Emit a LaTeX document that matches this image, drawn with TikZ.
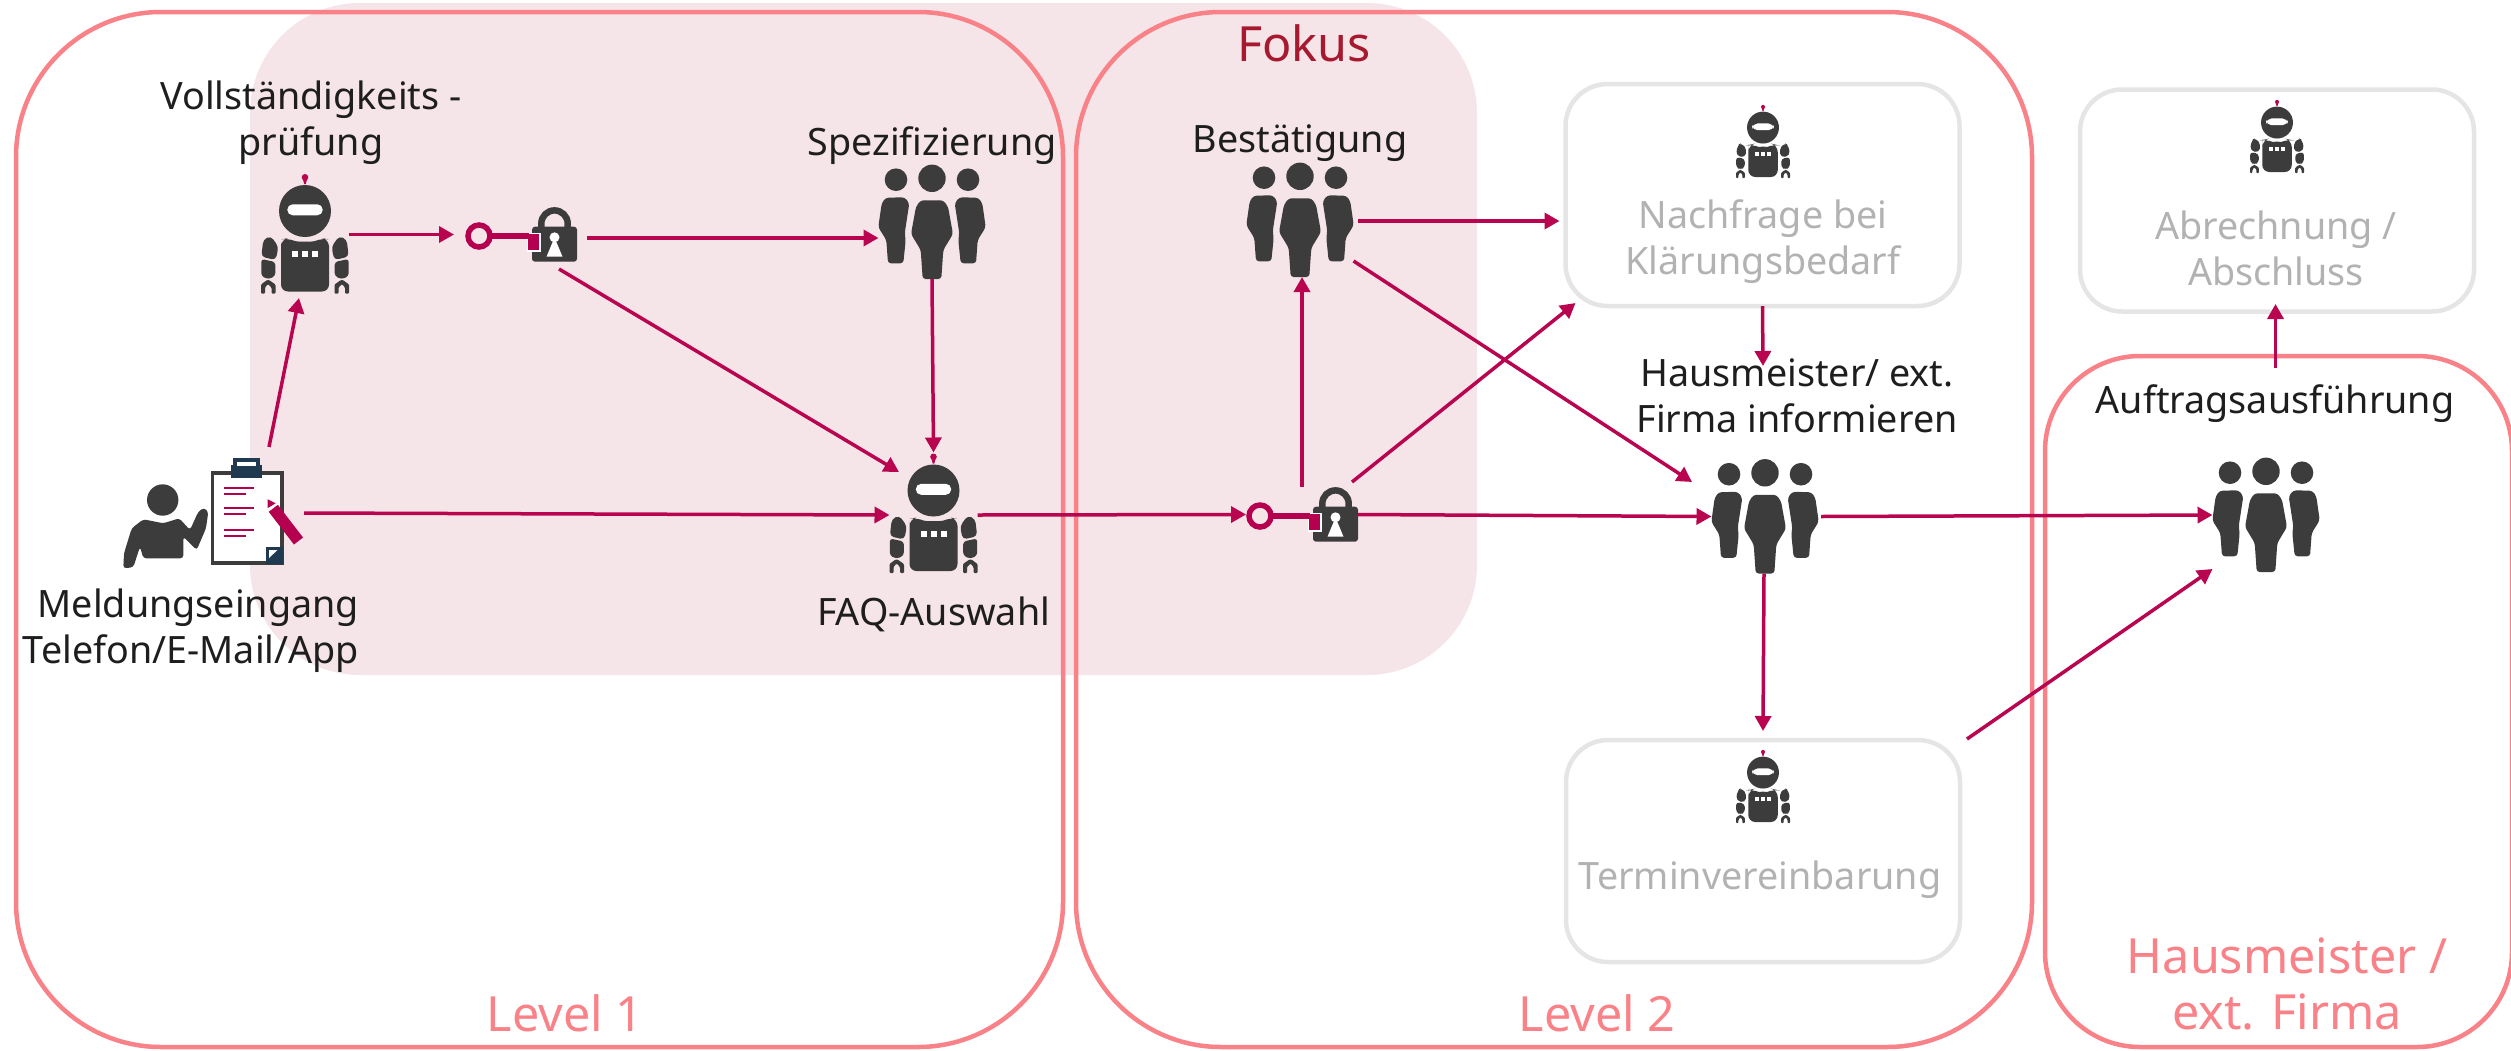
\documentclass[tikz,border=0pt]{standalone}
\usepackage{fontspec}
\setmainfont{Noto Sans}
\usepackage{xcolor}
\usetikzlibrary{arrows.meta,positioning}
\definecolor{flowred}{HTML}{B9054F}
\definecolor{keyred}{HTML}{B5004F}
\definecolor{framered}{HTML}{F98289}
\definecolor{focusbg}{HTML}{F5E5E9}
\definecolor{boxgrey}{HTML}{E5E5E5}
\definecolor{textgrey}{HTML}{B2B2B2}
\definecolor{icondark}{HTML}{3C3C3C}
\definecolor{clipblue}{HTML}{1F3A50}
\definecolor{textdark}{HTML}{1E1E1E}
\definecolor{fokusred}{HTML}{A6192E}

\begin{document}
\begin{tikzpicture}[x=1pt,y=-1pt,every node/.style={outer sep=0pt,inner sep=0pt},
    flow/.style={flowred,line width=3.5pt,-{Triangle[length=15pt,width=16pt]}},
    frame/.style={draw=framered,line width=4.5pt,rounded corners=145pt},
    greybox/.style={draw=boxgrey,line width=4.5pt,rounded corners=42pt,minimum width=394pt,minimum height=222pt},
    capt/.style={align=center,text=textdark,font=\fontsize{37.7}{46}\selectfont},
    captgrey/.style={capt,text=textgrey},
    lvl/.style={capt,text=framered,font=\fontsize{48.5}{56}\selectfont},
    robotpic/.pic={
    \fill[flowred] (0,-57.2) circle (3.3);
    \fill[flowred] (-2.3,-56) -- (2.3,-56) -- (0.8,-50.5) -- (-0.8,-50.5) -- cycle;
    \fill[icondark] (0,-23.5) circle (26);
    \fill[white,rounded corners=5.4] (-17.7,-30.2) rectangle (17.7,-19.2);
    \fill[icondark,rounded corners=7] (-24,14) -- (-24,5) -- (-17,3.5) .. controls (-8,7.5) and (8,7.5) .. (17,3.5) -- (24,5) -- (24,57) -- (-24,57) -- cycle;
    \foreach \X in {-10,0,10}
      \fill[white] (\X-3,16.5) rectangle (\X+3,22.5);
    \foreach \S in {-1,1}
    {
      \begin{scope}[xscale=\S]
        \fill[icondark,rounded corners=4] (34.3,1.5) -- (26.5,12.2) -- (29.3,25.5) -- (43.7,22.2) -- (41.7,5) -- cycle;
        \fill[icondark,rounded corners=3] (43.7,24.5) -- (29.7,27.5) -- (29.7,41.5) -- (36.7,44.8) -- (43.7,41.5) -- cycle;
        \fill[icondark,rounded corners=1] (44,59) -- (44,50) -- (38,45.5) -- (36,45.5) -- (29.5,50) -- (29.5,59) -- (33.5,59) -- (33.5,53) -- (37,49.5) -- (40,53) -- (40,59) -- cycle;
      \end{scope}
    }},
    crowdpic/.pic={
    \fill[icondark] (0,-43.7) circle (13.7);
    \fill[icondark,rounded corners=3] (-11.3,-21.7) -- (11.3,-21.7) -- (16,-15.3) -- (21,12) -- (11.3,28) -- (9.3,57) -- (-9.3,57) -- (-11.3,28) -- (-21,12) -- (-16,-15.3) -- cycle;
    \foreach \S in {-1,1}
    {
      \begin{scope}[xscale=\S]
        \fill[icondark] (36,-42.3) circle (11.3);
        \fill[icondark,rounded corners=3] (46.3,-24.3) -- (27.3,-24.7) -- (22.7,-18.7) -- (27.3,11.3) -- (26.3,18) -- (28.7,41.3) -- (44,41.3) -- (45.7,18) -- (53.7,5.3) -- (50.3,-18.7) -- cycle;
      \end{scope}
    }},
    lockpic/.pic={
    \draw[icondark,line width=6.5] (20.3,-7) -- (20.3,-10.9) arc (180:360:13.2) -- (46.7,-7);
    \fill[icondark,rounded corners=3] (11,-7.8) rectangle (56,27.2);
    \fill[white] (33.5,2.8) circle (5);
    \fill[white] (33.5,3) -- (41.5,22.2) -- (25.5,22.2) -- cycle;
    \draw[keyred,line width=5.5] (-42,1.5) circle (11);
    \fill[keyred,draw=white,line width=1.2] (6.7,-1.2) rectangle (19,16.5);
    \fill[keyred] (-30,-1.2) rectangle (8,4.8);},
    reportpic/.pic={
    \fill[icondark] (-50.8,-13) circle (15.7);
    \fill[icondark,rounded corners=3] (-90.2,55.3) -- (-89.5,40.3) -- (-81.8,15.3) -- (-70.2,6.3) -- (-50.2,10.3) -- (-34.2,5.3) -- (-23.5,17) -- (-15.2,-1.3) -- (-9.5,-5.3) -- (-5.2,-1.3) -- (-7.5,15.3) -- (-16.8,37) -- (-30.2,23.7) -- (-30.2,45.3) -- (-70.2,45.3) -- (-73.5,33.7) -- (-80.2,54.3) -- cycle;
    \draw[fill=white,draw=icondark,line width=3.2] (-1,-40) rectangle (68.5,50);
    \fill[clipblue] (17.2,-48) rectangle (48.8,-34.7);
    \fill[clipblue] (19.8,-54.7) rectangle (46.5,-47);
    \fill[white] (23.8,-51.3) rectangle (42.5,-46.7);
    \foreach \Y in {-25.3,-4.7,16.7}
    {
      \draw[keyred,line width=2.3] (10.5,\Y) -- (40.5,\Y);
      \draw[keyred,line width=2.3] (10.5,\Y+6) -- (32.5,\Y+6);
    }
    \fill[clipblue] (52.5,33.7) rectangle (69.8,51.3);
    \fill[white] (55.5,37) -- (64,37) -- (55.5,45) -- cycle;
    \draw[keyred,line width=11.5] (59.8,-4.7) -- (85,28);
    \fill[keyred] (54.2,-13.7) -- (54.2,-5) -- (62.2,-9.7) -- cycle;}]

    \useasboundingbox (0,0) rectangle (2511,1050);

    \node[fill=focusbg,rounded corners=110pt,minimum width=1227pt,minimum height=672pt] (focus) at (863.5,339) {};
    \node[frame,minimum width=1047pt,minimum height=1035pt] (lvl1) at (539.5,529.5) {};
    \node[frame,minimum width=956pt,minimum height=1035pt] (lvl2) at (1554,529.5) {};
    \node[frame,minimum width=467pt,minimum height=691pt,rounded corners=95pt] (firm) at (2278.5,701.5) {};
    \node[greybox] (box1) at (1762.5,195) {};
    \node[greybox] (box2) at (2277,200.5) {};
    \node[greybox] (box3) at (1763,851) {};

    % icons
    \foreach \N/\X/\Y in {rob1/305/234.5,rob2/933.5/514}
    {
      \node[minimum width=88pt,minimum height=123pt] (\N) at (\X,\Y) {};
      \pic at (\N) {robotpic};
    }
    \foreach \N/\X/\Y in {rob3/1763/142,rob4/2277/137,rob5/1763/787}
    {
      \node[minimum width=54pt,minimum height=75pt] (\N) at (\X,\Y) {};
      \pic[scale=0.614] at (\N) {robotpic};
    }
    \foreach \N/\X/\Y in {crowd1/932/222,crowd2/1300/220,crowd3/1765/516.5,crowd4/2266/515}
    {
      \node[minimum width=107pt,minimum height=114pt] (\N) at (\X,\Y) {};
      \pic at (\N) {crowdpic};
    }
    \foreach \N/\X/\Y in {lock1/521/234.5,lock2/1302/514.5}
    {
      \node[minimum width=112pt,minimum height=55pt] (\N) at (\X,\Y) {};
      \pic at (\N) {lockpic};
    }
    \node[minimum width=181pt,minimum height=110pt] (rep) at (213.5,513) {};
    \pic at (rep) {reportpic};

    % texts
    \node[capt,above=8pt of rob1,xshift=6pt] (t1) {Vollständigkeits -\\prüfung};
    \node[capt,above=0pt of crowd1] (t2) {Spezifizierung};
    \node[capt,above=1pt of crowd2] (t3) {Bestätigung};
    \node[capt,above=27pt of crowd3,xshift=32pt] (t4) {Hausmeister/ ext.\\Firma informieren};
    \node[capt,above=35pt of crowd4,xshift=9pt] (t5) {Auftragsausführung};
    \node[capt,below=21pt of rob2] (t6) {FAQ-Auswahl};
    \node[capt,align=right,below=21pt of rep,xshift=-22.5pt] (t7) {Meldungseingang\\Telefon/E-Mail/App};
    \node[captgrey,below=20.5pt of rob3] (t8) {Nachfrage bei\\Klärungsbedarf};
    \node[captgrey,below=36pt of rob4,xshift=-1pt] (t9) {Abrechnung /\\Abschluss};
    \node[captgrey,below=36pt of rob5,xshift=-3pt] (t10) {Terminvereinbarung};
    \node[lvl] (t11) at (565,1013) {Level 1};
    \node[lvl] (t12) at (1597,1013) {Level 2};
    \node[lvl] (t13) at (2287,983.5) {Hausmeister /\\ext. Firma};
    \node[lvl,text=fokusred] (t14) at (1304,43) {Fokus};

    \coordinate (aux1) at (1763,366);
    \coordinate (aux2) at (2275.5,368);

    \draw[flow] ([shift={(55.5,-11)}]rep.north) -- ([shift={(-6,2)}]rob1.south);
    \draw[flow] (rob1.east) -- ([xshift=-11pt]lock1.west);
    \draw[flow] ([shift={(10,3.5)}]lock1.east) -- ([yshift=-16pt]crowd1.west);
    \draw[flow] ([shift={(38,7)}]lock1.south) -- ([shift={(-34.5,-42)}]rob2.center);
    \draw[flow] (crowd1.south) -- (rob2.north);
    \draw[flow] (rep.east) -- ([yshift=-1pt]rob2.west);
    \draw[flow] ([yshift=-1pt]rob2.east) -- (lock2.west);
    \draw[flow] (lock2.east) -- (crowd3.west);
    \draw[flow] (lock2.north) -- ([xshift=2pt]crowd2.south);
    \draw[flow] ([shift={(50,-5)}]lock2.north) -- ([shift={(10,-3)}]box1.south west);
    \draw[flow] ([shift={(4.5,1)}]crowd2.east) -- ([shift={(-6,26)}]box1.west);
    \draw[flow] ([yshift=-41pt]crowd2.east) -- ([shift={(-19.5,-34.5)}]crowd3.west);
    \draw[flow] (box1.south) -- (aux1);
    \draw[flow] ([xshift=-1pt]crowd3.south) -- ([yshift=9pt]box3.north);
    \draw[flow] ([xshift=2.5pt]crowd3.east) -- (crowd4.west);
    \draw[flow] ([shift={(7,-1)}]box3.north east) -- ([yshift=-54pt]crowd4.west);
    \draw[flow] (aux2) -- ([shift={(-1.5,-7.5)}]box2.south);
\end{tikzpicture}
\end{document}
